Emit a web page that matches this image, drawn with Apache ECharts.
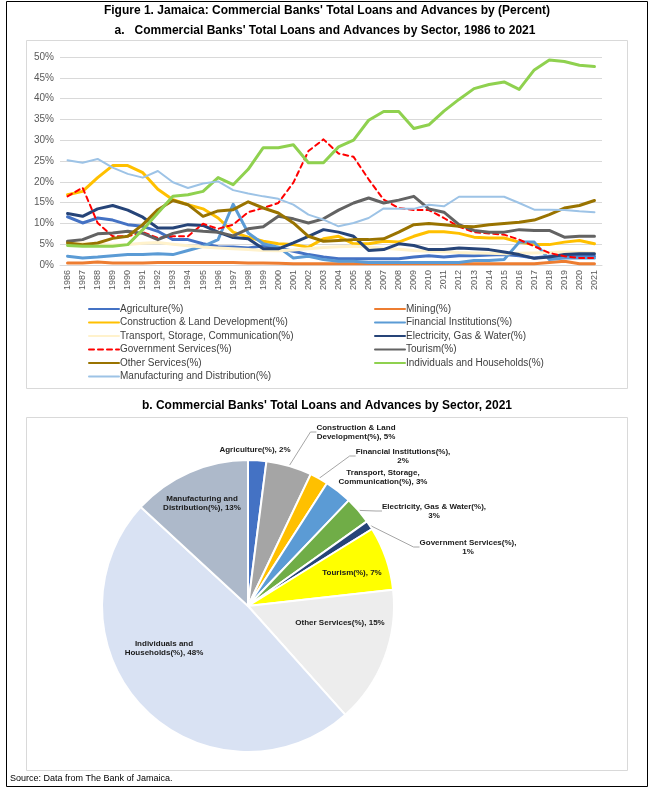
<!DOCTYPE html>
<html>
<head>
<meta charset="utf-8">
<script src="https://cdn.jsdelivr.net/npm/echarts@6/dist/echarts.min.js"></script>
<style>
html,body{margin:0;padding:0;background:#fff;}
#c{width:655px;height:789px;}
</style>
</head>
<body>
<div id="c"></div>
<script>
const years = ['1986','1987','1988','1989','1990','1991','1992','1993','1994','1995','1996','1997','1998','1999','2000','2001','2002','2003','2004','2005','2006','2007','2008','2009','2010','2011','2012','2013','2014','2015','2016','2017','2018','2019','2020','2021'];

const agriculture = [11.6,10.1,11.3,10.8,9.7,9.3,8.1,6.1,6.1,5.1, 4.4,4.3,4.1,4.6,4.1,3.3,2.5,1.9,1.5,1.5, 1.5,1.5,1.5,1.9,2.2,1.9,2.2,2.2,2.4,2.5, 2.2,1.7,2.1,2.2,2.2,2.1];
const mining = [0.5,0.5,0.7,0.5,0.5,0.5,0.6,0.6,0.6,0.6, 0.6,0.6,0.5,0.5,0.4,0.3,0.3,0.3,0.3,0.3, 0.3,0.3,0.3,0.3,0.3,0.3,0.3,0.3,0.3,0.3, 0.3,0.3,0.6,0.9,0.3,0.3];
const construction = [16.9,17.7,21.0,23.9,23.9,22.2,18.2,15.7,14.5,13.5, 11.3,7.9,6.7,5.7,5.1,4.9,4.3,6.3,6.9,5.1, 5.1,5.7,5.5,6.9,8.0,8.0,7.6,6.7,6.5,6.5, 5.5,4.9,4.9,5.5,5.9,5.1];
const financial = [2.1,1.7,1.9,2.2,2.5,2.5,2.7,2.5,3.5,4.5, 6.1,14.6,7.7,5.1,4.3,1.7,2.1,1.3,0.9,0.9, 0.6,0.6,0.6,0.6,0.6,0.6,0.6,1.1,1.1,1.3, 5.5,5.5,1.3,1.7,1.7,1.7];
const transport = [5.5,5.3,5.0,4.8,4.9,5.2,5.4,5.0,4.6,4.3, 4.1,3.9,3.7,3.5,3.4,3.6,3.9,4.2,4.4,4.5, 4.3,4.0,3.8,3.5,3.3,3.2,3.0,2.9,2.8,2.7, 2.8,2.9,3.0,3.1,3.0,2.9];
const electricity = [12.4,11.7,13.5,14.3,13.2,11.5,8.9,8.9,9.7,9.5, 7.9,6.6,6.3,3.9,3.9,5.3,6.9,8.5,7.9,6.9, 3.5,3.7,5.1,4.7,3.7,3.7,4.1,3.9,3.7,3.1, 2.5,1.6,1.9,2.5,2.7,2.7];
const government = [16.5,18.6,10.1,6.9,6.9,7.9,6.5,6.9,6.9,9.9, 8.7,9.7,12.7,13.7,14.9,19.8,27.4,30.2,26.8,26.0, 20.6,15.7,13.7,13.2,13.2,11.3,9.2,7.9,7.6,7.3, 6.1,4.5,2.9,2.1,1.7,1.7];
const tourism = [5.7,6.1,7.5,7.7,8.1,7.6,6.1,7.6,8.4,8.1, 7.9,7.0,8.7,9.2,11.7,11.1,10.1,11.1,13.2,14.9, 16.1,14.9,15.6,16.5,13.5,12.7,9.7,8.3,7.9,7.9, 8.5,8.3,8.3,6.7,6.9,6.9];
const otherServices = [5.3,4.9,5.3,6.4,6.9,9.7,13.3,15.5,14.5,11.7, 13.0,13.3,15.2,13.7,12.5,10.1,6.9,5.7,5.9,6.1, 6.1,6.3,7.9,9.7,10.0,9.7,9.3,9.2,9.7,10.0, 10.3,10.8,12.1,13.7,14.3,15.5];
const individuals = [4.7,4.5,4.5,4.5,4.9,8.5,12.5,16.5,16.9,17.7, 21.0,19.3,23.0,28.2,28.2,28.9,24.6,24.6,28.4,30.0, 34.8,36.9,36.9,32.8,33.7,37.0,39.8,42.4,43.4,44.0, 42.2,46.9,49.3,48.9,48.0,47.7];
const manufacturing = [25.2,24.6,25.5,23.4,21.9,21.0,22.6,19.9,18.5,19.6, 20.1,18.0,17.2,16.5,15.9,14.5,12.1,10.9,9.3,10.1, 11.3,13.6,13.5,13.5,14.5,14.1,16.4,16.4,16.4,16.4, 14.9,13.3,13.3,13.2,12.9,12.7];

const yTicks = [0,5,10,15,20,25,30,35,40,45,50];

const pieNames = ['Agriculture(%)','Construction & Land Development(%)','Financial Institutions(%)','Transport, Storage, Communication(%)','Electricity, Gas & Water(%)','Government Services(%)','Tourism(%)','Other Services(%)','Individuals and Households(%)','Manufacturing and Distribution(%)'];
const pieValues = [2,5,2,3,3,1,7,15,48,13];
const pieLabelText = ['Agriculture(%), 2%','Construction & Land\nDevelopment(%), 5%','Financial Institutions(%),\n2%','Transport, Storage,\nCommunication(%), 3%','Electricity, Gas & Water(%),\n3%','Government Services(%),\n1%','Tourism(%), 7%','Other Services(%), 15%','Individuals and\nHouseholds(%), 48%','Manufacturing and\nDistribution(%), 13%'];

// styling (not data)
const pieColors = ['#4472C4','#A5A5A5','#FFC000','#5B9BD5','#70AD47','#264478','#FFFF00','#EDEDED','#D9E2F3','#ADB9CA'];
const pieLabelPos = [[255,450],[356,432],[403,456],[383,477],[434,511],[468,547],[352,573],[340,623],[164,648],[202,503]];
const pieLine = [false,true,true,false,true,true,false,false,false,false];

const FONT = '"Liberation Sans", Arial, sans-serif';

const lineSeriesDef = [
  ['Agriculture(%)', agriculture, '#4472C4', 3, 'solid'],
  ['Mining(%)', mining, '#ED7D31', 3, 'solid'],
  ['Construction & Land Development(%)', construction, '#FFC000', 3, 'solid'],
  ['Financial Institutions(%)', financial, '#5B9BD5', 3, 'solid'],
  ['Transport, Storage, Communication(%)', transport, '#FFF2CC', 3, 'solid'],
  ['Electricity, Gas & Water(%)', electricity, '#264478', 3, 'solid'],
  ['Government Services(%)', government, '#FF0000', 2, [5,4]],
  ['Tourism(%)', tourism, '#636363', 3, 'solid'],
  ['Other Services(%)', otherServices, '#997300', 3, 'solid'],
  ['Individuals and Households(%)', individuals, '#8FD14F', 3, 'solid'],
  ['Manufacturing and Distribution(%)', manufacturing, '#9DC3E6', 2, 'solid']
];

const series = lineSeriesDef.map(d => ({
  name: d[0], type: 'line', data: d[1], symbol: 'none', smooth: false,
  xAxisIndex: 0, yAxisIndex: 0,
  lineStyle: {color: d[2], width: d[3], type: d[4], cap: 'round', join: 'round'},
  itemStyle: {color: d[2]},
  emphasis: {disabled: true}, animation: false
}));

series.push({
  type: 'pie', name: 'pie2021', center: [248, 606], radius: 146, startAngle: 90, clockwise: true,
  animation: false, avoidLabelOverlap: false,
  data: pieNames.map((n, i) => ({
    name: n, value: pieValues[i],
    itemStyle: {color: pieColors[i]},
    labelLine: {show: pieLine[i], length: 6, length2: 6, lineStyle: {color: '#A6A6A6', width: 1}}
  })),
  itemStyle: {borderColor: '#fff', borderWidth: 2},
  label: {
    show: true, position: 'outside',
    formatter: p => pieLabelText[p.dataIndex],
    fontFamily: FONT, fontSize: 8, fontWeight: 'bold', color: '#1a1a1a', lineHeight: 9, align: 'center'
  },
  labelLayout: p => ({x: pieLabelPos[p.dataIndex][0], y: pieLabelPos[p.dataIndex][1], align: 'center', verticalAlign: 'middle'}),
  emphasis: {disabled: true}
});

const leftLegend = ['Agriculture(%)','Construction & Land Development(%)','Transport, Storage, Communication(%)','Government Services(%)','Other Services(%)','Manufacturing and Distribution(%)'];
const rightLegend = ['Mining(%)','Financial Institutions(%)','Electricity, Gas & Water(%)','Tourism(%)','Individuals and Households(%)'];

const legendBase = {orient: 'vertical', itemWidth: 30, itemHeight: 10, itemGap: 3.5, padding: 0, selectedMode: false,
  itemStyle: {opacity: 0},
  textStyle: {fontFamily: FONT, fontSize: 10, color: '#404040', padding: [0,0,0,-4]}};

const option = {
  backgroundColor: '#fff',
  animation: false,
  textStyle: {fontFamily: FONT},
  grid: {left: 60, right: 53, top: 57, bottom: 524, containLabel: false},
  xAxis: {type: 'category', data: years, boundaryGap: true,
    axisTick: {show: false}, axisLine: {lineStyle: {color: '#D9D9D9'}},
    axisLabel: {rotate: 90, interval: 0, fontSize: 9, color: '#595959', fontFamily: FONT, margin: 5}},
  yAxis: {type: 'value', min: yTicks[0], max: yTicks[yTicks.length-1], interval: yTicks[1]-yTicks[0],
    axisLine: {show: false}, axisTick: {show: false},
    splitLine: {lineStyle: {color: '#D9D9D9', width: 1}},
    axisLabel: {formatter: '{value}%', fontSize: 10, color: '#595959', fontFamily: FONT, margin: 6}},
  legend: [
    Object.assign({}, legendBase, {data: leftLegend, left: 88, top: 304}),
    Object.assign({}, legendBase, {data: rightLegend, left: 374, top: 304})
  ],
  graphic: [
    {type: 'rect', shape: {x: 6.5, y: 1.5, width: 641, height: 785}, style: {fill: 'none', stroke: '#000', lineWidth: 1}, silent: true, z: -10},
    {type: 'rect', shape: {x: 26.5, y: 40.5, width: 601, height: 348}, style: {fill: 'none', stroke: '#D9D9D9', lineWidth: 1}, silent: true, z: -10},
    {type: 'rect', shape: {x: 26.5, y: 417.5, width: 601, height: 353}, style: {fill: 'none', stroke: '#D9D9D9', lineWidth: 1}, silent: true, z: -10},
    {type: 'text', style: {x: 327, y: 11, text: "Figure 1. Jamaica: Commercial Banks' Total Loans and Advances by (Percent)", textAlign: 'center', textVerticalAlign: 'middle', font: 'bold 12px ' + FONT, fill: '#000'}, silent: true},
    {type: 'text', style: {x: 325, y: 31, text: "a.   Commercial Banks' Total Loans and Advances by Sector, 1986 to 2021", textAlign: 'center', textVerticalAlign: 'middle', font: 'bold 12px ' + FONT, fill: '#000'}, silent: true},
    {type: 'text', style: {x: 327, y: 406, text: "b. Commercial Banks' Total Loans and Advances by Sector, 2021", textAlign: 'center', textVerticalAlign: 'middle', font: 'bold 12px ' + FONT, fill: '#000'}, silent: true},
    {type: 'text', style: {x: 10, y: 779, text: 'Source: Data from The Bank of Jamaica.', textAlign: 'left', textVerticalAlign: 'middle', font: '9px ' + FONT, fill: '#000'}, silent: true}
  ],
  series: series
};

const chart = echarts.init(document.getElementById('c'), null, {renderer: 'canvas'});
chart.setOption(option);
</script>
</body>
</html>
